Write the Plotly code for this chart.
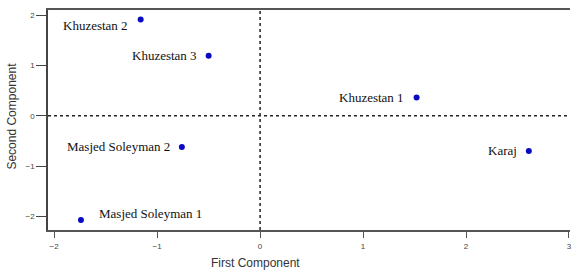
import plotly.graph_objects as go

# Data
sites = ["Khuzestan 2", "Khuzestan 3", "Khuzestan 1", "Karaj", "Masjed Soleyman 2", "Masjed Soleyman 1"]
first_component = [-1.16, -0.50, 1.52, 2.61, -0.76, -1.74]
second_component = [1.91, 1.19, 0.36, -0.70, -0.62, -2.07]
x_ticks = [-2, -1, 0, 1, 2, 3]
y_ticks = [-2, -1, 0, 1, 2]
x_title = "First Component"
y_title = "Second Component"

# Label styling (anchor side and pixel offsets)
label_anchor = ["right", "right", "right", "right", "right", "left"]
label_dx = [-11, -10, -11, -10, -10, 16]
label_dy = [-6, 0, 0, 0, 0, 6]

fig = go.Figure()
fig.add_trace(go.Scatter(
    x=first_component, y=second_component, mode="markers",
    marker=dict(color="#0a0ac0", size=6), showlegend=False, hoverinfo="skip"))

for s, x, y, a, dx, dy in zip(sites, first_component, second_component, label_anchor, label_dx, label_dy):
    fig.add_annotation(x=x, y=y, xref="x", yref="y", text=s, showarrow=False,
                       xanchor=a, yanchor="middle", xshift=dx, yshift=dy,
                       font=dict(family="Liberation Serif", size=13, color="#111"))

# axis titles
fig.add_annotation(x=0.398, y=-0.11, xref="paper", yref="paper", text=x_title, showarrow=False,
                   xanchor="center", yanchor="top",
                   font=dict(family="Liberation Sans", size=12, color="#333"))
fig.add_annotation(x=-0.069, y=0.52, xref="paper", yref="paper", text=y_title, showarrow=False,
                   textangle=-90, xanchor="center", yanchor="middle",
                   font=dict(family="Liberation Sans", size=12, color="#333"))

# dotted reference lines
fig.add_shape(type="line", xref="x", yref="paper", x0=0, x1=0, y0=0, y1=1,
              line=dict(color="#222", width=1.5, dash="dot"))
fig.add_shape(type="line", xref="paper", yref="y", x0=0, x1=1, y0=0, y1=0,
              line=dict(color="#222", width=1.5, dash="dot"))

fig.update_layout(
    width=574, height=274,
    margin=dict(l=48, r=2, t=10, b=44),
    paper_bgcolor="white", plot_bgcolor="white",
    xaxis=dict(range=[-2.06, 3.01], tickvals=x_ticks, showgrid=False, zeroline=False,
               showline=True, linecolor="#555", linewidth=1.5, mirror=True,
               ticks="outside", ticklen=6, tickcolor="#555", tickwidth=1.2,
               ticklabelstandoff=2,
               tickfont=dict(family="Liberation Sans", size=8, color="#444")),
    yaxis=dict(range=[-2.27, 2.1], tickvals=y_ticks, showgrid=False, zeroline=False,
               showline=True, linecolor="#444", linewidth=1.5, mirror=False,
               ticks="outside", ticklen=10, tickcolor="#444", tickwidth=1.3,
               ticksuffix="\u00a0\u00a0\u00a0\u00a0",
               tickfont=dict(family="Liberation Sans", size=8, color="#444")),
)

fig.write_html("out.html", post_script="document.body.style.margin='0';",
               config={"displayModeBar": False})
